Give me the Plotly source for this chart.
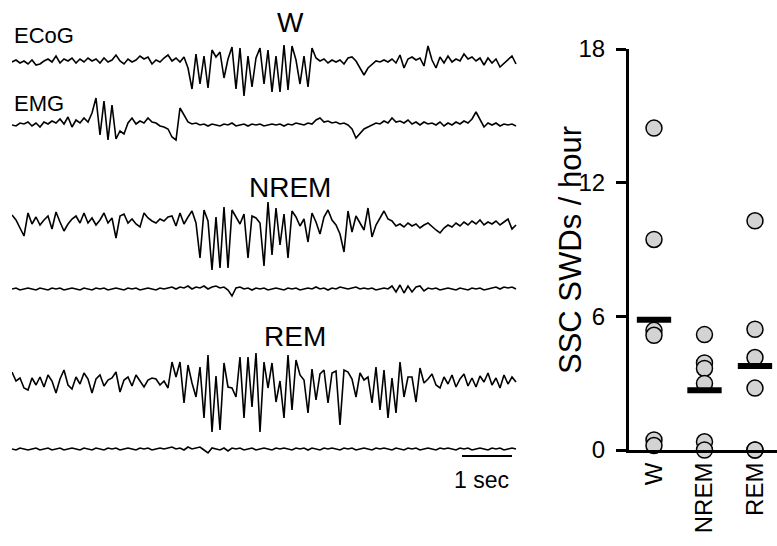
import numpy as np
import plotly.graph_objects as go

# ---- trace data (pixel-scale deflections, positive = up), one sample per 1/13.5 s ----
ecog_w = [0, 2, -1, 1, -2, 2, -3, -2, 1, 3,
          0, 6, -1, 3, 1, 4, -1, 3, 0, 4,
          1, 3, -1, 4, 0, 2, 7, 1, -2, 3,
          0, 2, 6, 3, 5, -2, 2, 0, 4, 7,
          1, 4, 0, 5, -6, -27, 8, -22, 6, -26,
          12, 5, 10, -16, 3, 15, -27, 14, -34, 6,
          -25, 4, 14, -22, 12, -30, 6, -30, 17, -28,
          16, 2, -22, 6, -25, 14, 4, 1, 3, -1,
          2, 0, 2, -2, 4, 5, 1, -6, -13, -6,
          -2, 1, 0, 2, 0, 3, -1, 7, -6, 3,
          5, 2, 4, -4, 16, 2, -6, 5, -1, 6,
          0, 3, 1, 8, 3, 5, 1, 4, -3, 4,
          -1, 3, -5, -1, 2, 6, -2]
emg_w = [0, -1, 2, 1, 3, -1, 2, -2, 3, 1,
         4, 2, 6, 1, 8, -2, 5, 2, 7, 3,
         12, 27, -10, 24, -15, 20, -14, -6, -9, 2,
         7, 1, 4, 2, 7, 3, 2, -1, -2, -4,
         -12, -15, 17, 10, 3, 1, 2, 0, 1, -1,
         1, 0, -1, 1, 0, 2, -1, 0, 1, -1,
         1, 0, 1, -1, 0, 1, 0, 1, -1, 1,
         0, 2, 1, 0, 2, 1, 5, 7, 3, 4,
         2, 3, 1, 2, 0, -4, -13, -8, -4, -2,
         0, 2, 1, 4, 2, 7, 3, 4, 2, 5,
         1, 3, 0, 3, 1, 2, 0, 3, -1, 2,
         0, 3, 1, 4, 2, 6, 13, 5, -2, 2,
         0, 2, -1, 1, 0, 1, -1]
ecog_nrem = [7, 2, -6, -14, 9, -2, 5, -3, 2, 6,
             -7, 10, 0, -9, -2, 3, 6, -1, 9, -1,
             4, -3, 2, 9, -1, 4, -16, 6, 8, -1,
             3, -2, -5, 9, 4, 1, -1, 3, 1, 5,
             6, -4, 9, -2, 5, 11, -1, -36, 12, 1,
             -48, 5, -46, 15, -46, 12, 5, -2, 8, -36,
             6, 4, -1, -44, 20, -33, 14, -23, 8, -36,
             11, 5, -4, 3, -20, 9, 0, -12, 5, 12,
             2, -3, -12, -30, 11, -10, 6, -1, -8, 14,
             -15, -3, 4, 11, 3, 1, -4, -2, -5, -1,
             -4, -2, -6, -3, -1, -5, -8, -11, -6, -3,
             -5, -1, -4, 0, -3, 1, -2, 2, -3, 0,
             -2, 1, -3, 0, 3, -7, -3]
emg_nrem = [0, 1, -1, 0, 1, 0, -1, 1, 0, -1,
            1, 0, 1, -1, 0, 1, 0, -1, 1, 0,
            -1, 1, 0, 1, -1, 0, 1, 0, -1, 1,
            0, 1, -1, 0, 1, 0, -1, 1, 0, 1,
            2, 0, 2, 1, 3, 0, 2, 1, 3, 0,
            2, 3, 1, 2, -1, -7, 1, 2, 0, 1,
            -1, 1, 0, 1, -1, 0, 1, 0, -1, 1,
            0, 1, -1, 0, 1, 0, 2, 0, 1, -1,
            1, 0, 2, 1, 0, 1, 2, 0, 1, 0,
            1, -1, 0, 1, 0, 3, -3, 4, -4, 3,
            -3, 2, 3, -2, 1, 0, 1, -1, 0, 1,
            0, -1, 1, 0, -1, 1, 0, 1, -1, 0,
            1, 2, 0, 2, 1, 2, 0]
ecog_rem = [9, 0, 3, -7, -9, 3, -4, 4, -6, 6,
            0, -12, 2, 11, -4, -8, 4, -3, 8, 2,
            -12, 2, 6, -5, 1, 3, 9, -11, 1, 4,
            -5, 6, 0, -6, 1, 3, 2, -4, 0, -7,
            19, 4, 19, -22, 16, -2, -16, 14, -37, 26,
            -51, 5, -49, 18, -6, -7, -16, 24, -37, 24,
            -26, 28, -51, 19, -7, 18, -21, 0, -37, 26,
            -29, 21, 6, 1, -32, 12, -19, 7, 11, -22,
            8, 10, -44, 11, 9, 2, -16, 8, 1, 4,
            -22, 14, -29, 11, -37, 3, -32, 19, -16, 4,
            4, -21, 13, -2, 2, 7, -4, -7, 4, -3,
            6, -6, 2, 7, -5, 3, -6, 5, -1, 8,
            -4, 3, -7, 6, -3, 4, -1]
emg_rem = [0, -1, 1, 0, -1, 0, 1, -1, 0, 1,
           -1, 0, 1, -1, 0, 1, 0, -1, 1, 0,
           -1, 1, 0, -1, 1, 0, 1, -1, 0, 1,
           0, -1, 1, 0, 1, -1, 0, 1, 0, 1,
           2, 0, 1, -1, 2, 0, 1, 2, -1, -4,
           1, 0, -1, 1, -2, 1, 0, 1, -1, 0,
           1, -1, 0, 1, 0, -1, 1, 0, 1, 0,
           -1, 1, 0, 1, -1, 1, 0, -1, 1, 0,
           1, 0, -1, 1, 0, 1, -1, 0, 1, 0,
           -1, 1, 0, 1, 0, -1, 1, 0, -1, 1,
           0, 1, -1, 0, 1, 0, -1, 1, 0, 1,
           0, -1, 1, 0, 1, -1, 0, 1, 0, -1,
           1, 0, 1, -1, 0, 1, 0]

# ---- SSC SWDs per hour by state ----
states = ["W", "NREM", "REM"]
swd_w = [14.45, 9.45, 5.37, 5.15, 0.45, 0.2]
swd_nrem = [5.18, 3.91, 3.66, 2.99, 0.37, 0.0]
swd_rem = [10.29, 5.42, 4.15, 2.78, 0.0, 0.0]

W, H = 777, 546
FONT = "Liberation Sans, Arial, sans-serif"
dt = 4 / 54.0  # seconds per sample

fig = go.Figure()

# stacked traces, offsets in screen pixels
rows = [(ecog_w, 62), (emg_w, 125), (ecog_nrem, 222), (emg_nrem, 289),
        (ecog_rem, 381), (emg_rem, 449)]
for vals, base in rows:
    v = np.array(vals, dtype=float)
    t = np.arange(len(v)) * dt
    fig.add_trace(go.Scatter(x=t, y=v - base, mode="lines",
                             line=dict(color="black", width=1.6),
                             xaxis="x", yaxis="y", showlegend=False,
                             hoverinfo="skip"))

# scale bar 1 sec
bar0 = (462 - 12) / 54.0
fig.add_shape(type="line", xref="x", yref="y", x0=bar0, x1=bar0 + 50 / 54.0,
              y0=-456, y1=-456, line=dict(color="black", width=2))

# scatter of individual animals, then group means on top
groups = [swd_w, swd_nrem, swd_rem]
for i, g in enumerate(groups):
    fig.add_trace(go.Scatter(x=[i] * len(g), y=g, mode="markers",
                             marker=dict(size=16, color="#d3d3d3",
                                         line=dict(color="black", width=1.5)),
                             xaxis="x2", yaxis="y2", cliponaxis=False,
                             showlegend=False))
for i, g in enumerate(groups):
    m = float(np.mean(g))
    fig.add_trace(go.Scatter(x=[i - 0.34, i + 0.34], y=[m, m], mode="lines",
                             line=dict(color="black", width=6),
                             xaxis="x2", yaxis="y2", cliponaxis=False,
                             showlegend=False))


def px(x):
    return x / W


def py(y):
    return 1 - y / H


ann = []
for text, x, y, size, anchor in [("ECoG", 12, 36, 22, "left"), ("EMG", 12, 103, 22, "left"),
                                 ("W", 290, 23, 28, "center"), ("NREM", 290, 187, 28, "center"),
                                 ("REM", 295, 336, 28, "center"), ("1 sec", 482, 480, 23, "center")]:
    ann.append(dict(text=text, x=px(x), y=py(y), xref="paper", yref="paper",
                    xanchor=anchor, yanchor="middle", showarrow=False,
                    font=dict(size=size, color="black", family=FONT)))
ann.append(dict(text="SSC SWDs / hour", x=px(571), y=py(250), xref="paper", yref="paper",
                textangle=-90, xanchor="center", yanchor="middle", showarrow=False,
                font=dict(size=31, color="black", family=FONT)))

fig.update_layout(
    width=W, height=H,
    autosize=False,
    margin=dict(l=0, r=0, t=0, b=0, pad=0),
    paper_bgcolor="white", plot_bgcolor="white",
    font=dict(family=FONT, color="black"),
    xaxis=dict(domain=[px(12), px(517)], range=[0, 505 / 54.0], visible=False,
               automargin=False),
    yaxis=dict(domain=[0, 1], range=[-H, 0], visible=False, automargin=False),
    xaxis2=dict(domain=[px(629), 1], range=[-0.495, 2.436], anchor="y2",
                tickvals=[0, 1, 2], ticktext=states, tickangle=-90,
                showline=True, linewidth=3, linecolor="black", ticks="",
                showgrid=False, zeroline=False, tickfont=dict(size=24),
                automargin=False),
    yaxis2=dict(domain=[py(450), py(49)], range=[0, 18], anchor="x2",
                tickvals=[0, 6, 12, 18], showline=True, linewidth=3, linecolor="black",
                ticks="outside", ticklen=10, tickwidth=3, tickcolor="black",
                ticklabelstandoff=6,
                showgrid=False, zeroline=False, tickfont=dict(size=24),
                automargin=False),
    annotations=ann,
)

fig.write_html("out.html", config={"displayModeBar": False},
               post_script="document.body.style.margin='0';")
